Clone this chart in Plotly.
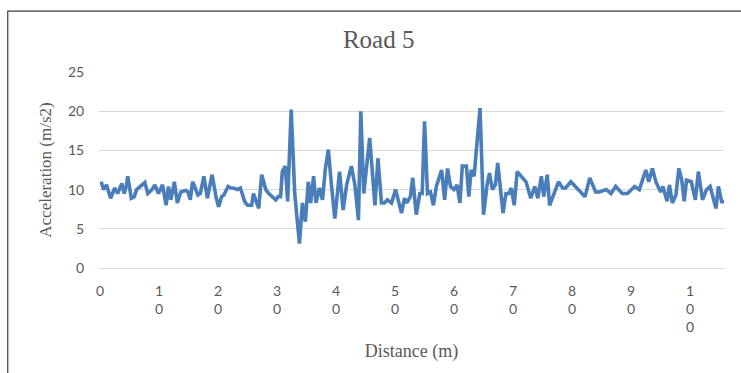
import plotly.graph_objects as go

# Road 5 acceleration profile
distance_m = [0.2, 0.6, 1.1, 1.8, 2.5, 3.0, 3.7, 4.1, 4.5, 4.7, 5.3, 5.8, 6.2, 7.0, 7.6, 8.1,
              8.8, 9.3, 9.9, 10.6, 11.0, 11.2, 11.6, 12.0, 12.6, 13.1, 13.7, 14.5, 14.9, 15.3,
              15.7, 16.2, 16.6, 17.0, 17.6, 18.2, 19.0, 19.7, 20.1, 20.6, 21.0, 21.7, 22.2,
              22.6, 23.3, 23.8, 24.5, 25.0, 25.7, 26.0, 26.9, 27.4, 28.1, 28.6, 29.3, 29.8,
              30.2, 30.6, 30.9, 31.4, 31.8, 32.4, 33.0, 33.4, 33.8, 34.3, 34.8, 35.3, 35.7,
              36.2, 36.6, 37.2, 37.7, 38.2, 38.7, 39.2, 39.8, 40.6, 41.2, 41.8, 42.6, 43.2,
              43.8, 44.2, 44.7, 45.7, 46.6, 47.1, 47.7, 48.2, 48.7, 49.4, 50.1, 50.6, 51.1,
              51.6, 52.0, 52.6, 53.0, 53.6, 54.2, 54.6, 55.0, 55.5, 56.0, 56.5, 57.0, 57.9,
              58.4, 58.9, 59.4, 60.0, 60.5, 61.0, 61.4, 62.1, 62.5, 62.9, 63.4, 64.4, 65.0,
              65.6, 66.0, 66.5, 67.0, 67.4, 68.3, 68.8, 69.3, 69.7, 70.2, 70.7, 71.7, 72.2,
              73.0, 73.7, 74.2, 74.8, 75.2, 75.8, 76.2, 76.8, 77.7, 78.4, 78.9, 79.8, 80.6,
              82.2, 83.0, 84.0, 84.6, 85.8, 86.6, 87.4, 88.5, 89.4, 90.6, 91.4, 92.5, 93.0,
              93.6, 94.2, 95.0, 95.4, 96.1, 96.5, 97.0, 97.6, 98.1, 98.6, 99.0, 99.4, 100.2,
              100.9, 101.4, 102.1, 102.8, 103.4, 104.4, 104.8, 105.4, 105.7]

acceleration = [11.0, 10.0, 10.6, 8.9, 10.2, 9.5, 10.8, 9.5, 10.6, 11.7, 8.9, 9.1, 10.0, 10.6,
                10.9, 9.5, 10.0, 10.6, 9.5, 10.6, 8.7, 8.0, 10.4, 8.7, 11.0, 8.3, 9.7, 9.9,
                9.7, 8.7, 11.0, 10.0, 9.3, 9.5, 11.7, 8.9, 11.9, 8.9, 7.8, 9.1, 9.3, 10.4,
                10.2, 10.2, 10.0, 10.2, 8.5, 8.0, 8.0, 9.5, 7.6, 11.9, 10.0, 9.5, 9.1, 8.7,
                9.1, 9.1, 12.3, 13.0, 8.5, 20.2, 9.5, 5.9, 3.1, 8.3, 5.9, 11.0, 8.3, 11.7,
                8.3, 10.2, 8.7, 12.7, 15.1, 10.8, 6.3, 12.3, 7.4, 10.6, 13.0, 10.6, 6.1, 20.0,
                9.5, 16.6, 8.0, 14.0, 8.3, 8.3, 8.7, 8.3, 10.0, 8.5, 7.0, 8.9, 8.3, 9.1,
                11.5, 6.8, 9.5, 9.5, 18.7, 9.5, 9.7, 8.0, 10.4, 12.5, 8.7, 12.7, 10.4, 10.0,
                10.6, 8.3, 13.0, 13.0, 9.1, 12.5, 11.7, 20.4, 6.8, 10.6, 12.1, 10.0, 10.6,
                13.4, 7.0, 9.5, 9.5, 10.2, 8.0, 12.3, 11.5, 11.0, 8.9, 10.4, 8.9, 11.7, 9.1,
                11.9, 8.0, 9.1, 11.0, 10.2, 10.2, 11.0, 10.4, 9.1, 11.5, 9.7, 9.7, 10.0, 9.5,
                10.4, 9.5, 9.5, 10.4, 10.0, 12.5, 11.0, 12.7, 11.0, 9.7, 10.4, 8.5, 10.6, 8.3,
                9.3, 12.7, 11.2, 8.5, 11.2, 11.0, 8.7, 12.3, 8.7, 10.0, 10.4, 7.6, 10.4, 8.3,
                8.7]

tick_values = list(range(0, 101, 10))
# Narrow category labels wrap one digit per line
tick_labels = ["<br>".join(str(v)) for v in tick_values]

fig = go.Figure()
fig.add_trace(go.Scatter(
    x=distance_m, y=acceleration, mode="lines",
    line=dict(color="#4a7ebb", width=3.6),
    hoverinfo="skip", showlegend=False,
))

grey = "#595959"
fig.update_layout(
    width=741, height=373,
    margin=dict(l=99, r=17, t=72, b=105),
    paper_bgcolor="white", plot_bgcolor="white",
    title=dict(text="Road 5", x=0.511, xref="container", xanchor="center",
               y=0.895, yref="container", yanchor="middle",
               font=dict(family="Liberation Serif", size=25, color=grey)),
    xaxis=dict(
        range=[-0.17, 105.75], tickmode="array", tickvals=tick_values, ticktext=tick_labels,
        showgrid=False, zeroline=False, showline=False,
        ticks="outside", ticklen=10, tickcolor="rgba(0,0,0,0)",
        tickfont=dict(family="Lato", size=14, color=grey),
        title=dict(text="Distance (m)", standoff=10,
                   font=dict(family="Liberation Serif", size=18, color=grey)),
    ),
    yaxis=dict(
        range=[0, 25], tickvals=[0, 5, 10, 15, 20, 25],
        showgrid=True, gridcolor="#d9d9d9", gridwidth=1,
        zeroline=True, zerolinecolor="#d9d9d9", zerolinewidth=1, showline=False,
        ticks="outside", ticklen=11, tickcolor="rgba(0,0,0,0)",
        tickfont=dict(family="Lato", size=14, color=grey),
        title=dict(text="Acceleration (m/s2)", standoff=12,
                   font=dict(family="Liberation Serif", size=17, color=grey)),
    ),
    shapes=[dict(type="rect", xref="paper", yref="paper",
                 x0=-0.146, x1=1.06, y0=-0.6, y1=1.311,
                 line=dict(color="#3a3a3a", width=1.2), fillcolor="rgba(0,0,0,0)",
                 layer="below")],
)

fig.write_html("out.html")
